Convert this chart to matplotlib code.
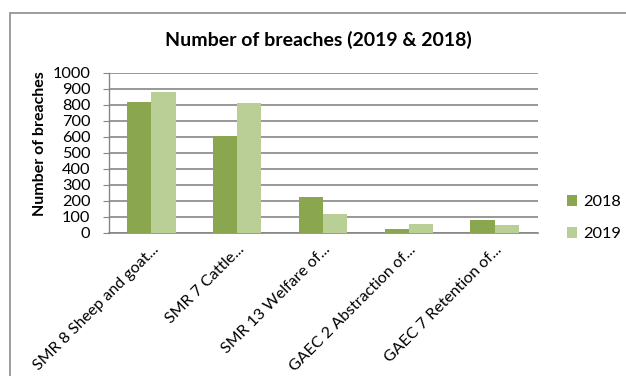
import matplotlib
matplotlib.use("Agg")
import matplotlib.pyplot as plt
import numpy as np
from matplotlib.patches import Rectangle

plt.rcParams['font.family'] = ['Lato', 'DejaVu Sans']

categories = ["SMR 8 Sheep and goat...", "SMR 7 Cattle...", "SMR 13 Welfare of...",
              "GAEC 2 Abstraction of...", "GAEC 7 Retention of..."]
series_names = ["2018", "2019"]
values_2018 = [820, 605, 225, 23, 80]
values_2019 = [880, 810, 115, 55, 50]
yticks = [0, 100, 200, 300, 400, 500, 600, 700, 800, 900, 1000]

colors = ["#8AA64E", "#BACF96"]

W, H = 626, 376
fig = plt.figure(figsize=(W / 100, H / 100), dpi=100)

# outer chart border
fig.patches.append(Rectangle((10 / W, -0.01), 1.0, 1 - 13 / H + 0.01,
                             transform=fig.transFigure, fill=False,
                             edgecolor="#8C8C8C", linewidth=1.2))

left, right = 108.5, 537.5
top, bottom = 73, 232.7
ax = fig.add_axes([left / W, (H - bottom) / H, (right - left) / W, (bottom - top) / H])

x = np.arange(len(categories))
bw = 0.283
ax.bar(x - bw / 2, values_2018, width=bw, color=colors[0], label=series_names[0], zorder=3)
ax.bar(x + bw / 2, values_2019, width=bw, color=colors[1], label=series_names[1], zorder=3)

ax.set_xlim(-0.5, len(categories) - 0.5)
ax.set_ylim(0, 1000)
ax.set_yticks(yticks)
ax.set_yticklabels([str(v) for v in yticks], fontsize=11.8)
ax.yaxis.grid(True, color="#868686", linewidth=1.2, zorder=0)
ax.set_axisbelow(True)

for s in ["top", "right"]:
    ax.spines[s].set_visible(False)
ax.spines["left"].set_color("#868686")
ax.spines["bottom"].set_color("#868686")
ax.spines["left"].set_linewidth(1.0)
ax.spines["bottom"].set_linewidth(1.2)
ax.tick_params(axis="y", length=4, color="#868686", pad=9)
ax.tick_params(axis="x", length=0, pad=7)

ax.set_xticks(x)
ax.set_xticklabels(categories, rotation=45, ha="right", rotation_mode="anchor", fontsize=11.5)

ax.set_ylabel("Number of breaches", fontsize=11.5, fontweight="bold")
ax.yaxis.set_label_coords(-62 / (right - left), 0.56)

fig.text(318 / W, 1 - 40 / H, "Number of breaches (2019 & 2018)", ha="center", va="center",
         fontsize=14, fontweight="bold")

# legend
fig.legend(handles=ax.patches[:1] + ax.patches[len(categories):len(categories) + 1],
           labels=series_names, loc="center left",
           bbox_to_anchor=(552 / W, 1 - 218 / H), frameon=False, fontsize=11.8,
           handlelength=0.65, handleheight=0.65, handletextpad=0.35, labelspacing=1.1)

fig.savefig("out.png", dpi=100)
